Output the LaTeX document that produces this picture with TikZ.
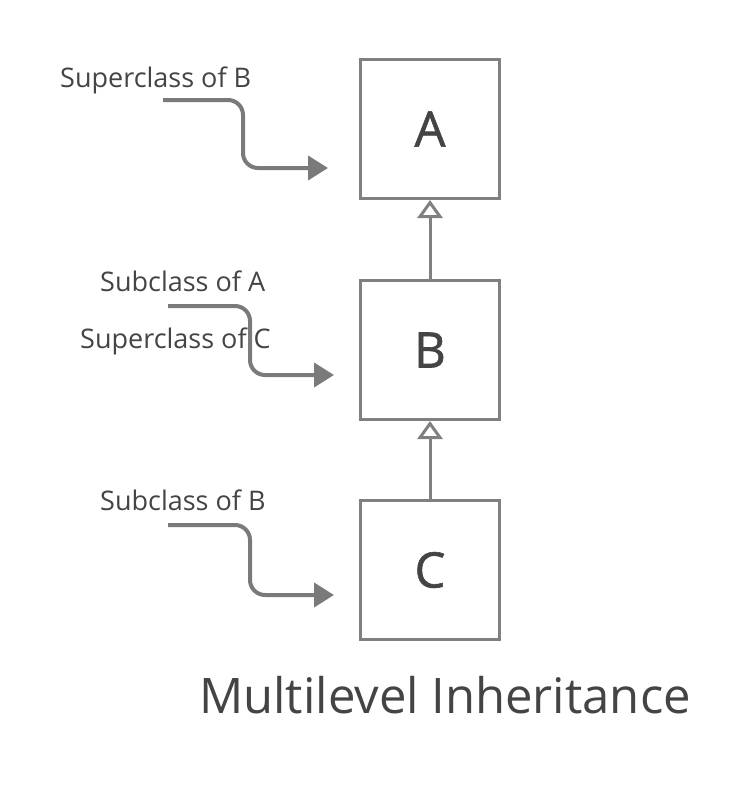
\documentclass[tikz,border=0pt]{standalone}
\usepackage{fontspec}
\setmainfont{Open Sans}
\newfontfamily\boxfont{Open Sans}[BoldFont={Open Sans},BoldFeatures={FakeBold=1.2}]
\usetikzlibrary{arrows.meta}
\definecolor{boxgray}{HTML}{808080}
\definecolor{txtgray}{HTML}{444444}
\definecolor{arrgray}{HTML}{7A7A7A}
\begin{document}
\begin{tikzpicture}[x=1pt,y=-1pt,
  classbox/.style={draw=boxgray,line width=3pt,minimum width=139pt,minimum height=139pt,inner sep=0pt,text=txtgray,font=\boxfont\bfseries\fontsize{49}{51}\selectfont},
  lbl/.style={text=txtgray,font=\fontsize{27}{29}\selectfont,inner sep=0pt},
  inherit/.style={draw=boxgray,line width=3pt,-{Triangle[open,length=18pt,width=25pt,line width=3pt]}},
  pointer/.style={draw=arrgray,line width=4pt,rounded corners=15pt,-{Triangle[length=20pt,width=24pt]}}]
\useasboundingbox (0,0) rectangle (750,787);
\node[classbox] (A) at (430,129) {A};
\node[classbox] (B) at (430,350) {B};
\node[classbox] (C) at (430,570) {C};
\draw[inherit] (B.north) -- (A.south);
\draw[inherit] (C.north) -- (B.south);
\node[lbl,anchor=west] (l1) at (60,80) {Superclass of B};
\node[lbl,anchor=west] (l2) at (100,281) {Subclass of A};
\node[lbl,anchor=west] (l3) at (80,341) {Superclass of C};
\node[lbl,anchor=west] (l4) at (100,500) {Subclass of B};
\node[text=txtgray,font=\fontsize{49}{52}\selectfont,inner sep=0pt] (t) at (445,695) {Multilevel Inheritance};
\coordinate (s1) at (163,100); \coordinate (e1) at (328,168);
\coordinate (s2) at (168,306); \coordinate (e2) at (334,375);
\coordinate (s3) at (168,525); \coordinate (e3) at (334,595);
\draw[pointer] (s1) -- (243,100) -- (243,168) -- (e1);
\draw[pointer] (s2) -- (250,306) -- (250,375) -- (e2);
\draw[pointer] (s3) -- (250,525) -- (250,595) -- (e3);
\end{tikzpicture}
\end{document}
